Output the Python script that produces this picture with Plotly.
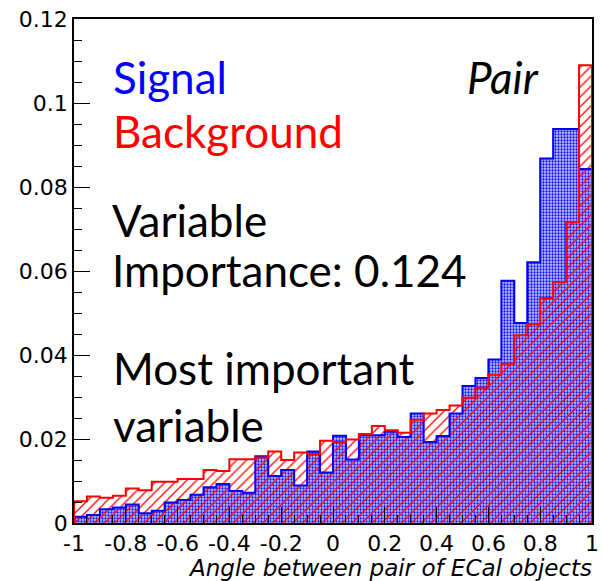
import numpy as np
import plotly.graph_objects as go

# ---- data (40 bins from -1 to 1) ----
bin_low, bin_high, n_bins = -1.0, 1.0, 40
signal = [0.0015, 0.0019, 0.0033, 0.0037, 0.0044, 0.0023, 0.0029, 0.0049, 0.0055, 0.0067,
          0.0085, 0.0093, 0.0076, 0.0072, 0.0159, 0.0112, 0.0126, 0.0089, 0.0170, 0.0120,
          0.0208, 0.0151, 0.0209, 0.0209, 0.0217, 0.0205, 0.0261, 0.0193, 0.0207, 0.0261,
          0.0326, 0.0345, 0.0389, 0.0577, 0.0476, 0.0621, 0.0868, 0.0938, 0.0938, 0.0843]
background = [0.0052, 0.0063, 0.0060, 0.0065, 0.0082, 0.0078, 0.0098, 0.0098, 0.0105, 0.0105,
              0.0126, 0.0124, 0.0152, 0.0152, 0.0156, 0.0170, 0.0150, 0.0168, 0.0164, 0.0196,
              0.0193, 0.0199, 0.0212, 0.0231, 0.0221, 0.0215, 0.0246, 0.0261, 0.0269, 0.0280,
              0.0298, 0.0322, 0.0353, 0.0379, 0.0447, 0.0473, 0.0536, 0.0574, 0.0716, 0.1090]
x_tickvals = [-1, -0.8, -0.6, -0.4, -0.2, 0, 0.2, 0.4, 0.6, 0.8, 1]
x_ticktext = ["-1", "-0.8", "-0.6", "-0.4", "-0.2", "0", "0.2", "0.4", "0.6", "0.8", "1"]
y_tickvals = [0, 0.02, 0.04, 0.06, 0.08, 0.1, 0.12]
y_ticktext = ["0", "0.02", "0.04", "0.06", "0.08", "0.1", "0.12"]
x_title = "Angle between pair of ECal objects"

edges = np.linspace(bin_low, bin_high, n_bins + 1)
centers = 0.5 * (edges[:-1] + edges[1:])
width = edges[1] - edges[0]

fig = go.Figure()
fig.add_trace(go.Bar(
    x=centers, y=signal, width=width,
    marker=dict(color="#8a8af4", line=dict(width=0),
                pattern=dict(shape=".", fgcolor="#1010ff", bgcolor="#c4c4ff",
                             size=3, solidity=0.45, fillmode="replace")),
    showlegend=False, hoverinfo="skip"))
fig.add_trace(go.Bar(
    x=centers, y=background, width=width,
    marker=dict(color="rgba(0,0,0,0)", line=dict(width=0),
                pattern=dict(shape="/", fgcolor="#ff0000", size=7, solidity=0.18,
                             fillmode="replace")),
    showlegend=False, hoverinfo="skip"))

def outline(vals):
    xs = [edges[0]] + list(edges) + [edges[-1]]
    ys = [0] + list(vals) + [vals[-1], 0]
    return xs, ys

xs, ys = outline(signal)
fig.add_trace(go.Scatter(x=xs, y=ys, mode="lines", line=dict(color="#0000ff", width=2, shape="hv"),
                         showlegend=False, hoverinfo="skip"))
xs, ys = outline(background)
fig.add_trace(go.Scatter(x=xs, y=ys, mode="lines", line=dict(color="#ff0000", width=2, shape="hv"),
                         showlegend=False, hoverinfo="skip"))

tick_font = dict(family="DejaVu Sans", size=22, color="black")
fig.update_layout(
    width=604, height=581,
    margin=dict(l=74, r=5, t=19, b=58),
    paper_bgcolor="white", plot_bgcolor="white",
    barmode="overlay", bargap=0,
    xaxis=dict(range=[bin_low, bin_high], tickvals=x_tickvals, ticktext=x_ticktext,
               ticks="inside", ticklen=16, tickcolor="black", tickwidth=1,
               minor=dict(dtick=0.05, ticks="inside", ticklen=8, tickcolor="black"),
               showline=True, linecolor="black", linewidth=1.5, mirror=True,
               showgrid=False, zeroline=False, tickfont=tick_font),
    yaxis=dict(range=[0, 0.12], tickvals=y_tickvals, ticktext=y_ticktext,
               ticks="inside", ticklen=16, tickcolor="black", tickwidth=1,
               minor=dict(dtick=0.005, ticks="inside", ticklen=8, tickcolor="black"),
               showline=True, linecolor="black", linewidth=1.5, mirror=True,
               showgrid=False, zeroline=False, tickfont=tick_font),
)

def py2y(py):
    return (523 - py) / 4200.0

txt_font = "Lato"
annots = [
    ("Signal", 111, 77, "#0000ff", "normal"),
    ("Background", 111, 131, "#ff0000", "normal"),
    ("Variable", 110, 220, "black", "normal"),
    ("Importance: 0.124", 110, 270, "black", "normal"),
    ("Most important", 112, 368, "black", "normal"),
    ("variable", 112, 425, "black", "normal"),
    ("Pair", 470, 77, "black", "italic"),
]
for text, px, py, col, style in annots:
    fig.add_annotation(x=(px - 74) / 525.0, y=py2y(py), xref="paper", yref="y",
                       text=text, showarrow=False, xanchor="left", yanchor="middle",
                       font=dict(family=txt_font, size=44, color=col, style=style))

fig.add_annotation(x=1, y=0, xref="paper", yref="paper", text=x_title, showarrow=False,
                   xanchor="right", yanchor="middle", xshift=2, yshift=-45,
                   font=dict(family="DejaVu Sans", size=23, color="black", style="italic"))

fig.write_html("out.html")
